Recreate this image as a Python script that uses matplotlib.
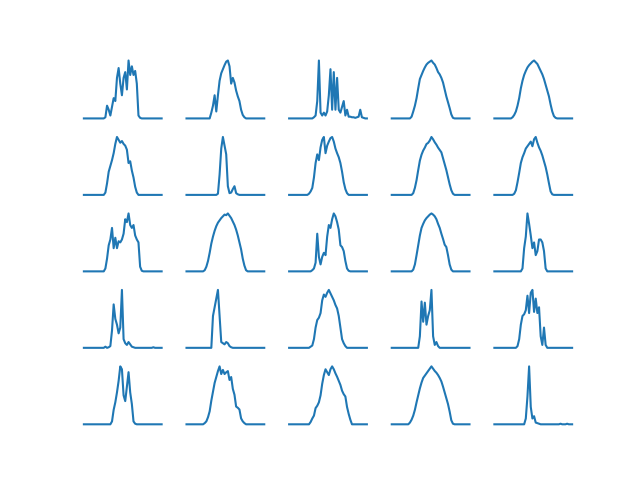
import matplotlib
matplotlib.use("Agg")
import matplotlib.pyplot as plt
import numpy as np

# half-hourly output per day, percent of that day's peak
day_01 = [0, 0, 0, 0, 0, 0, 0, 0, 0, 0, 0, 0, 0,
          2, 22, 15, 5, 20, 35, 30, 70, 87, 60, 40, 70, 80, 50, 100, 75, 90, 75, 82, 60, 5, 1,
          0, 0, 0, 0, 0, 0, 0, 0, 0, 0, 0, 0, 0]
day_02 = [0, 0, 0, 0, 0, 0, 0, 0, 0, 0, 0, 0, 0, 0, 0,
          10, 22, 40, 12, 40, 65, 78, 85, 92, 98, 100, 90, 60, 70, 62, 48, 38, 30, 15, 6, 2,
          0, 0, 0, 0, 0, 0, 0, 0, 0, 0, 0, 0]
day_03 = [0, 0, 0, 0, 0, 0, 0, 0, 0, 0, 0, 0, 0, 0, 0,
          2, 5, 30, 100, 10, 5, 10, 5, 12, 40, 85, 15, 80, 15, 70, 15, 10, 20, 30, 5,
          15, 3, 3, 2, 2, 1, 2, 3, 15, 2, 1,
          0, 0]
day_04 = [0, 0, 0, 0, 0, 0, 0, 0, 0, 0, 0, 0,
          3, 12, 22, 35, 52, 68, 75, 82, 88, 93, 96, 98, 100, 96, 93, 87, 80, 76, 70, 62,
          50, 38, 28, 18, 7, 1,
          0, 0, 0, 0, 0, 0, 0, 0, 0, 0]
day_05 = [0, 0, 0, 0, 0, 0, 0, 0, 0, 0, 0,
          2, 6, 12, 22, 35, 52, 65, 75, 82, 88, 92, 95, 98, 100, 97, 94, 88, 82, 76, 68,
          58, 48, 38, 24, 12, 4, 1,
          0, 0, 0, 0, 0, 0, 0, 0, 0, 0]
day_06 = [0, 0, 0, 0, 0, 0, 0, 0, 0, 0, 0, 0, 0,
          4, 20, 40, 50, 60, 72, 88, 100, 95, 90, 93, 88, 85, 78, 55, 58, 42, 30, 14, 4,
          0, 0, 0, 0, 0, 0, 0, 0, 0, 0, 0, 0, 0, 0, 0]
day_07 = [0, 0, 0, 0, 0, 0, 0, 0, 0, 0, 0, 0, 0, 0, 0, 0, 0, 0, 0,
          2, 35, 80, 100, 85, 70, 15, 3, 4, 10, 15, 3, 1,
          0, 0, 0, 0, 0, 0, 0, 0, 0, 0, 0, 0, 0, 0, 0, 0]
day_08 = [0, 0, 0, 0, 0, 0, 0, 0, 0, 0, 0, 0,
          2, 6, 12, 30, 55, 70, 60, 82, 95, 100, 72, 85, 92, 98, 100, 92, 80, 72, 65, 55,
          40, 22, 10, 3,
          0, 0, 0, 0, 0, 0, 0, 0, 0, 0, 0, 0]
day_09 = [0, 0, 0, 0, 0, 0, 0, 0, 0, 0, 0, 0, 0,
          3, 12, 25, 42, 58, 68, 75, 80, 86, 88, 92, 98, 94, 89, 85, 80, 76, 72, 62, 52,
          42, 30, 18, 8, 2,
          0, 0, 0, 0, 0, 0, 0, 0, 0, 0]
day_10 = [0, 0, 0, 0, 0, 0, 0, 0, 0, 0, 0, 0,
          2, 8, 22, 38, 55, 65, 72, 80, 84, 88, 92, 84, 96, 100, 90, 82, 76, 68, 58, 48,
          35, 20, 6, 1,
          0, 0, 0, 0, 0, 0, 0, 0, 0, 0, 0, 0]
day_11 = [0, 0, 0, 0, 0, 0, 0, 0, 0, 0, 0, 0, 0,
          5, 22, 45, 55, 75, 40, 58, 40, 52, 50, 55, 65, 90, 85, 100, 80, 75, 80, 62, 55,
          50, 8, 1,
          0, 0, 0, 0, 0, 0, 0, 0, 0, 0, 0, 0]
day_12 = [0, 0, 0, 0, 0, 0, 0, 0, 0, 0, 0,
          2, 8, 18, 32, 48, 60, 70, 78, 84, 88, 92, 95, 98, 97, 100, 96, 92, 86, 80, 72,
          62, 50, 38, 22, 10, 2,
          0, 0, 0, 0, 0, 0, 0, 0, 0, 0, 0]
day_13 = [0, 0, 0, 0, 0, 0, 0, 0, 0, 0, 0, 0, 0, 0,
          2, 5, 15, 65, 25, 12, 25, 32, 28, 60, 80, 75, 90, 100, 95, 85, 72, 45, 42, 35,
          18, 5, 1,
          0, 0, 0, 0, 0, 0, 0, 0, 0, 0, 0]
day_14 = [0, 0, 0, 0, 0, 0, 0, 0, 0, 0, 0, 0, 0,
          3, 12, 28, 45, 62, 75, 82, 88, 92, 95, 98, 100, 98, 95, 90, 82, 75, 65, 56, 46,
          42, 28, 12, 3,
          0, 0, 0, 0, 0, 0, 0, 0, 0, 0, 0]
day_15 = [0, 0, 0, 0, 0, 0, 0, 0, 0, 0, 0, 0, 0, 0, 0, 0, 0,
          5, 40, 60, 100, 82, 62, 40, 50, 28, 35, 55, 55, 50, 35, 5,
          0, 0, 0, 0, 0, 0, 0, 0, 0, 0, 0, 0, 0, 0, 0, 0]
day_16 = [0, 0, 0, 0, 0, 0, 0, 0, 0, 0, 0, 0, 0,
          2, 0, 1, 3, 30, 75, 50, 40, 25, 35, 100, 15, 8, 5, 10, 6, 2, 1,
          0, 0, 0, 0, 0, 0, 0, 0, 0, 0, 0, 1, 0, 0, 0, 0, 0]
day_17 = [0, 0, 0, 0, 0, 0, 0, 0, 0, 0, 0, 0, 0, 0, 0, 0,
          55, 70, 85, 100, 55, 10, 8, 6, 10, 8, 3, 1,
          0, 0, 0, 0, 0, 0, 0, 0, 0, 0, 0, 0, 0, 0, 0, 0, 0, 0, 0, 0]
day_18 = [0, 0, 0, 0, 0, 0, 0, 0, 0, 0, 0, 0, 0,
          2, 4, 15, 35, 48, 52, 60, 82, 92, 88, 95, 100, 94, 88, 82, 74, 68, 55, 35, 15,
          8, 3,
          0, 0, 0, 0, 0, 0, 0, 0, 0, 0, 0, 0, 0]
day_19 = [0, 0, 0, 0, 0, 0, 0, 0, 0, 0, 0, 0, 0, 0, 0, 0, 0,
          20, 80, 45, 78, 40, 55, 65, 100, 20, 5, 10, 3,
          0, 0, 0, 0, 0, 0, 0, 0, 0, 0, 0, 0, 0, 0, 0, 0, 0, 0, 0]
day_20 = [0, 0, 0, 0, 0, 0, 0, 0, 0, 0, 0, 0, 0, 0,
          3, 15, 40, 55, 58, 65, 90, 60, 95, 100, 62, 85, 60, 70, 20, 5, 35, 5,
          0, 0, 0, 0, 0, 0, 0, 0, 0, 0, 0, 0, 0, 0, 0, 0]
day_21 = [0, 0, 0, 0, 0, 0, 0, 0, 0, 0, 0, 0, 0, 0, 0, 0, 0,
          5, 25, 38, 55, 75, 100, 95, 50, 40, 65, 90, 55, 35, 5, 1,
          0, 0, 0, 0, 0, 0, 0, 0, 0, 0, 0, 0, 0, 0, 0, 0]
day_22 = [0, 0, 0, 0, 0, 0, 0, 0, 0, 0, 0,
          2, 5, 12, 22, 40, 55, 70, 80, 90, 98, 85, 92, 85, 88, 90, 75, 80, 60, 50, 30,
          28, 25, 10, 5, 2,
          0, 0, 0, 0, 0, 0, 0, 0, 0, 0, 0, 0]
day_23 = [0, 0, 0, 0, 0, 0, 0, 0, 0, 0, 0, 0, 0,
          4, 10, 15, 28, 32, 38, 50, 70, 85, 95, 90, 85, 95, 100, 95, 88, 82, 75, 68, 58,
          52, 48, 30, 18, 8,
          0, 0, 0, 0, 0, 0, 0, 0, 0, 0]
day_24 = [0, 0, 0, 0, 0, 0, 0, 0, 0, 0, 0,
          3, 8, 15, 25, 38, 50, 62, 72, 80, 84, 88, 92, 96, 100, 96, 92, 89, 85, 80, 74,
          65, 55, 45, 35, 22, 7, 1,
          0, 0, 0, 0, 0, 0, 0, 0, 0, 0]
day_25 = [0, 0, 0, 0, 0, 0, 0, 0, 0, 0, 0, 0, 0, 0, 0, 0, 0, 0, 0,
          10, 48, 100, 30, 10, 14, 3, 2, 1,
          0, 0, 0, 0, 0, 0, 0, 0, 0, 0, 0, 0, 1, 0, 0, 0, 1, 0, 0, 0]

days = [day_01, day_02, day_03, day_04, day_05,
        day_06, day_07, day_08, day_09, day_10,
        day_11, day_12, day_13, day_14, day_15,
        day_16, day_17, day_18, day_19, day_20,
        day_21, day_22, day_23, day_24, day_25]

fig, axes = plt.subplots(5, 5, figsize=(6.4, 4.8), dpi=100)
for ax, day in zip(axes.flat, days):
    hours = np.arange(len(day)) / 2
    ax.plot(hours, day)
    ax.axis("off")

fig.savefig("out.png", dpi=100)
